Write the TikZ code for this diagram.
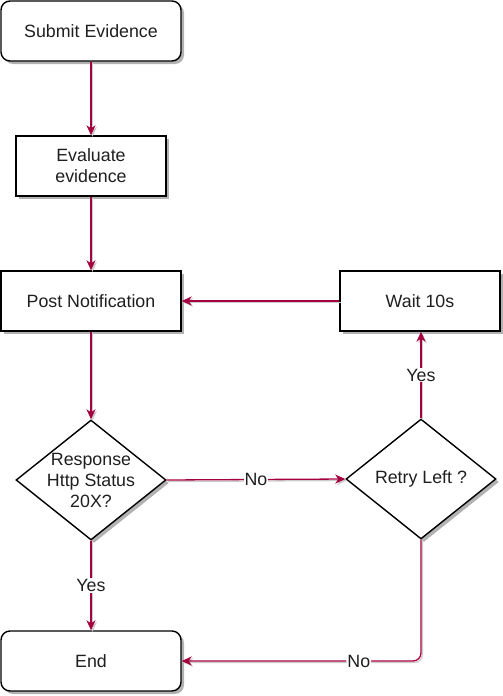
\documentclass[tikz,border=0pt]{standalone}
\usepackage{fontspec}
\setmainfont{Liberation Sans}
\usetikzlibrary{shapes.geometric,arrows.meta,shadows}
\definecolor{crimson}{HTML}{A50040}

\begin{document}
\begin{tikzpicture}[x=1pt,y=-1pt,
    every node/.style={font=\fontsize{17.8}{21}\selectfont, text=black!88},
    shade/.style={drop shadow={shadow xshift=3pt,shadow yshift=-3pt,fill=black!30,opacity=1}},
    term/.style={draw, line width=1.4pt, rounded corners=9pt, fill=white, minimum width=180pt, minimum height=60pt, shade},
    box/.style={draw, line width=1.4pt, fill=white, minimum width=#1, minimum height=60pt, align=center, shade},
    dia/.style={diamond, draw, line width=1.4pt, fill=white, minimum width=150pt, minimum height=120pt, inner sep=0pt, shade},
    lbl/.style={fill=white, inner sep=1pt},
    flow/.style={draw=crimson, line width=1.3pt, -{Stealth[length=10pt,width=9pt,inset=3pt]},
        preaction={draw=black!20, line width=1.3pt, transform canvas={shift={(1.5pt,-1.5pt)}}}}]
    \useasboundingbox (0,0) rectangle (503,696);
    % nodes
    \node[term] (submit) at (91,31) {Submit Evidence};
    \node[box=150pt] (evaluate) at (91,166) {Evaluate\\evidence};
    \node[box=180pt] (post) at (91,301) {Post Notification};
    \node[box=160pt] (wait) at (420,301) {Wait 10s};
    \node[dia] (resp) at (91,480) {};
    \node[align=center] at (resp) {Response\\Http Status\\20X?};
    \node[dia] (retry) at (421,479) {};
    \node at (retry) {Retry Left ?};
    \node[term] (finish) at (91,661) {End};
    % connectors
    \draw[flow] (submit) -- (evaluate);
    \draw[flow] (evaluate) -- (post);
    \draw[flow] (post) -- (resp);
    \draw[flow] (resp.east) -- node[lbl]{No} (retry.west);
    \draw[flow] (resp.south) -- node[lbl]{Yes} (finish.north);
    \draw[flow] (retry.north) -- node[lbl]{Yes} (wait.south -| retry.north);
    \draw[flow] (wait) -- (post);
    \draw[flow, rounded corners=8pt] (retry.south) |- node[lbl, pos=0.63]{No} (finish.east);
\end{tikzpicture}
\end{document}
